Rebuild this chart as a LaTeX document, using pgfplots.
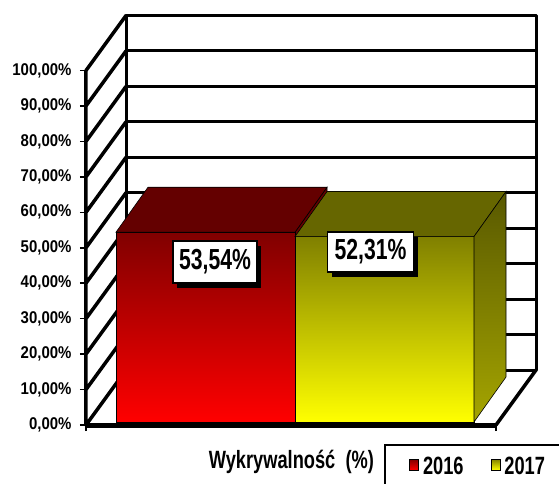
\documentclass[border=0pt]{standalone}
\usepackage{pgfplots}
\pgfplotsset{compat=1.18}
\usetikzlibrary{shadows}
\usepackage{fontspec}
\setmainfont{Liberation Sans}
\newfontfamily\narrowfont[FakeStretch=0.73]{Liberation Sans}
\newfontfamily\tickfont[FakeStretch=0.88]{Liberation Sans}
\definecolor{redtop}{RGB}{128,0,0}
\definecolor{redbot}{RGB}{255,0,0}
\definecolor{redroof}{RGB}{100,0,0}
\definecolor{yeltop}{RGB}{128,128,0}
\definecolor{yelbot}{RGB}{255,255,0}
\definecolor{yelroof}{RGB}{102,102,0}
\definecolor{yelsidetop}{RGB}{88,88,0}
\definecolor{yelsidebot}{RGB}{165,165,0}
\begin{document}
\begin{tikzpicture}
\begin{axis}[
  x=1pt, y=3.545pt,
  xmin=86, xmax=496, ymin=0, ymax=100,
  clip=false,
  axis line style={draw=none},
  ytick={0,10,...,100},
  xtick={86,496}, xticklabels={},
  tick align=outside, ytick pos=left, xtick pos=bottom,
  major tick length=6pt,
  tick style={black, line width=1.5pt},
  yticklabel={\pgfmathprintnumber[fixed,fixed zerofill,precision=2,use comma,assume math mode=true]{\tick}\%},
  yticklabel style={font=\tickfont\bfseries\fontsize{17}{17}\selectfont, anchor=east, xshift=-5pt},
  xlabel={Wykrywalność\ \ (\%)},
  xlabel style={at={(axis description cs:0.501,-0.1044)}, anchor=center, font=\narrowfont\bfseries\fontsize{25}{25}\selectfont},
  legend columns=2,
  legend style={at={(axis cs:409,-11.85)}, anchor=west, draw=none, fill=none, inner sep=0pt,
    font=\narrowfont\bfseries\fontsize{25}{25}\selectfont,
    /tikz/every odd column/.append style={column sep=2pt},
    /tikz/every even column/.append style={column sep=25pt}},
]
% back wall
\draw[line width=3pt, line cap=round]
  (axis cs:126,15.51) -- (axis cs:536,15.51)
  (axis cs:126,25.51) -- (axis cs:536,25.51)
  (axis cs:126,35.51) -- (axis cs:536,35.51)
  (axis cs:126,45.51) -- (axis cs:536,45.51)
  (axis cs:126,55.51) -- (axis cs:536,55.51)
  (axis cs:126,65.51) -- (axis cs:536,65.51)
  (axis cs:126,75.51) -- (axis cs:536,75.51)
  (axis cs:126,85.51) -- (axis cs:536,85.51)
  (axis cs:126,95.51) -- (axis cs:536,95.51)
  (axis cs:126,105.51) -- (axis cs:536,105.51)
  (axis cs:126,115.51) -- (axis cs:536,115.51)
  (axis cs:126,15.51) -- (axis cs:126,115.51)
  (axis cs:536,15.51) -- (axis cs:536,115.51);
% left wall
\draw[line width=3.5pt, line cap=round]
  (axis cs:86,0) -- (axis cs:126,15.51)
  (axis cs:86,10) -- (axis cs:126,25.51)
  (axis cs:86,20) -- (axis cs:126,35.51)
  (axis cs:86,30) -- (axis cs:126,45.51)
  (axis cs:86,40) -- (axis cs:126,55.51)
  (axis cs:86,50) -- (axis cs:126,65.51)
  (axis cs:86,60) -- (axis cs:126,75.51)
  (axis cs:86,70) -- (axis cs:126,85.51)
  (axis cs:86,80) -- (axis cs:126,95.51)
  (axis cs:86,90) -- (axis cs:126,105.51)
  (axis cs:86,100) -- (axis cs:126,115.51)
  (axis cs:86,0) -- (axis cs:86,100);
% floor
\draw[line width=3.5pt, line cap=round] (axis cs:496,0) -- (axis cs:536,15.51);
\draw[line width=5pt] (axis cs:86,0) -- (axis cs:496,0);
% bars: 2016
\addplot[forget plot, fill=redroof, draw=black, line width=0.6pt, yshift=3pt]
  coordinates {(295,0) (295,53.54) (327,66.23) (327,12.69)} -- cycle;
\addplot[ybar, bar width=179, bar shift=0pt, draw=black, line width=0.6pt,
  top color=redtop, bottom color=redbot, yshift=3pt,
  legend image code/.code={\draw[draw=black, line width=0.8pt, top color=redtop, bottom color=redbot] (0pt,-6pt) rectangle (9pt,5pt);}]
  coordinates {(205.5,53.54)};
\addlegendentry{2016}
\addplot[forget plot, fill=redroof, draw=black, line width=0.6pt, yshift=3pt]
  coordinates {(116,53.54) (295,53.54) (327,66.23) (148,66.23)} -- cycle;
% bars: 2017
\addplot[ybar, bar width=179, bar shift=0pt, draw=black, line width=0.6pt,
  top color=yeltop, bottom color=yelbot, yshift=3pt,
  legend image code/.code={\draw[draw=black, line width=0.8pt, top color=yeltop, bottom color=yelbot] (0pt,-6pt) rectangle (9pt,5pt);}]
  coordinates {(384.5,52.31)};
\addlegendentry{2017}
\addplot[forget plot, fill=yelroof, draw=black, line width=0.6pt, yshift=3pt]
  coordinates {(295,52.31) (474,52.31) (506,65.00) (327,65.00)} -- cycle;
\addplot[forget plot, top color=yelsidetop, bottom color=yelsidebot, draw=black, line width=0.6pt, yshift=3pt]
  coordinates {(474,0) (474,52.31) (506,65.00) (506,12.69)} -- cycle;
% value labels
\node[draw=black, line width=1.2pt, fill=white, minimum width=84pt, minimum height=42pt, inner sep=0pt,
  drop shadow={shadow xshift=4pt, shadow yshift=-5pt, fill=black, opacity=1},
  font=\narrowfont\bfseries\fontsize{29}{29}\selectfont] at (axis cs:215,46.0) {53,54\%};
\node[draw=black, line width=1.2pt, fill=white, minimum width=86pt, minimum height=40pt, inner sep=0pt,
  drop shadow={shadow xshift=4pt, shadow yshift=-5pt, fill=black, opacity=1},
  font=\narrowfont\bfseries\fontsize{29}{29}\selectfont] at (axis cs:370.5,48.8) {52,31\%};
% legend frame
\draw[line width=1.5pt] (axis cs:385,-5.64) rectangle (axis cs:640,-40);
\coordinate (bbl) at (axis cs:0,-16.36);
\coordinate (btr) at (axis cs:559,119.89);
\end{axis}
\pgfresetboundingbox
\path[use as bounding box] (bbl) rectangle (btr);
\end{tikzpicture}
\end{document}
